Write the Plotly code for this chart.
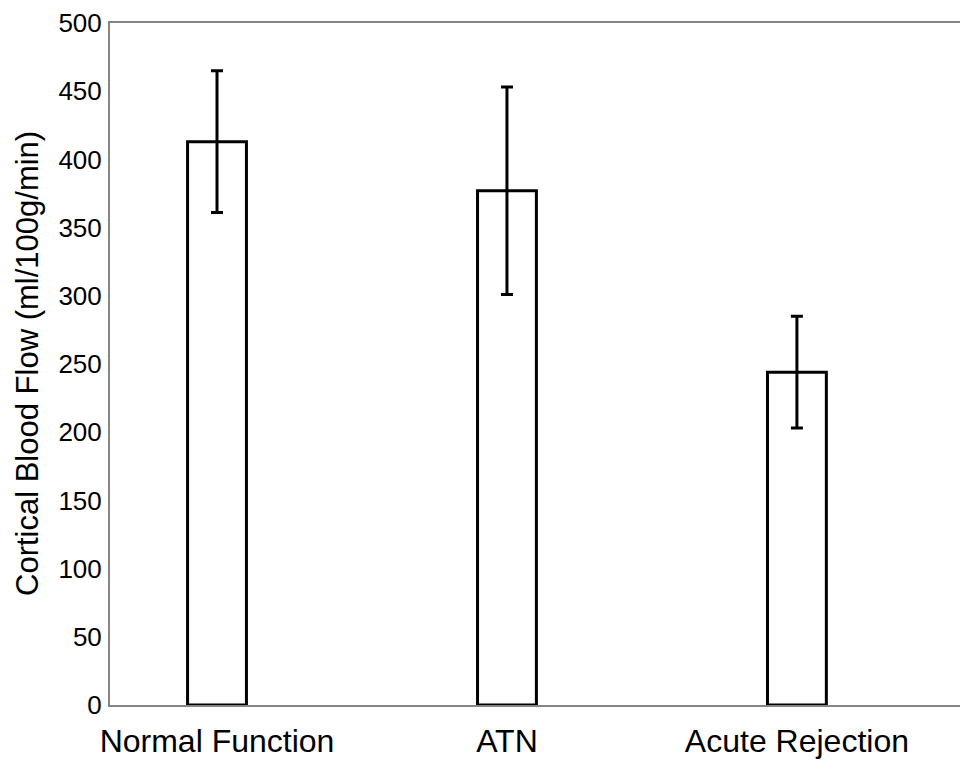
import plotly.graph_objects as go

categories = ["Normal Function", "ATN", "Acute Rejection"]
means = [413, 377, 244]
errors = [52, 76, 41]
y_ticks = [0, 50, 100, 150, 200, 250, 300, 350, 400, 450, 500]

x_pos = list(range(len(categories)))

fig = go.Figure()
fig.add_trace(go.Bar(
    x=x_pos, y=means, width=0.203,
    marker=dict(color="white", line=dict(color="black", width=3)),
    error_y=dict(type="data", array=errors, visible=True, color="black",
                 thickness=3, width=6),
))

font = "Liberation Sans, Arial, sans-serif"
fig.update_layout(
    width=960, height=752,
    margin=dict(l=102, r=0, t=12, b=55),
    plot_bgcolor="white", paper_bgcolor="white",
    showlegend=False,
    font=dict(family=font, color="black"),
    xaxis=dict(
        range=[-0.369, 2.59], tickmode="array", tickvals=x_pos, ticktext=categories,
        showline=True, linecolor="#858585", linewidth=2, mirror=True,
        showgrid=False, zeroline=False, ticks="", tickfont=dict(size=32, family=font, color="black"),
        ticklabelstandoff=7, ticklabeloverflow="allow",
    ),
    yaxis=dict(
        range=[0, 500], tickmode="array", tickvals=y_ticks,
        showline=True, linecolor="#858585", linewidth=2,
        showgrid=False, zeroline=False, ticks="", tickfont=dict(size=26, family=font, color="black"),
        ticklabelstandoff=1, ticklabeloverflow="allow",
    ),
    annotations=[dict(
        text="Cortical Blood Flow (ml/100g/min)", textangle=-90,
        xref="paper", yref="paper", x=(27 - 110) / 858, y=0.5,
        xanchor="center", yanchor="middle", showarrow=False,
        font=dict(size=31, family=font, color="black"),
    )],
)

fig.write_html("out.html")
